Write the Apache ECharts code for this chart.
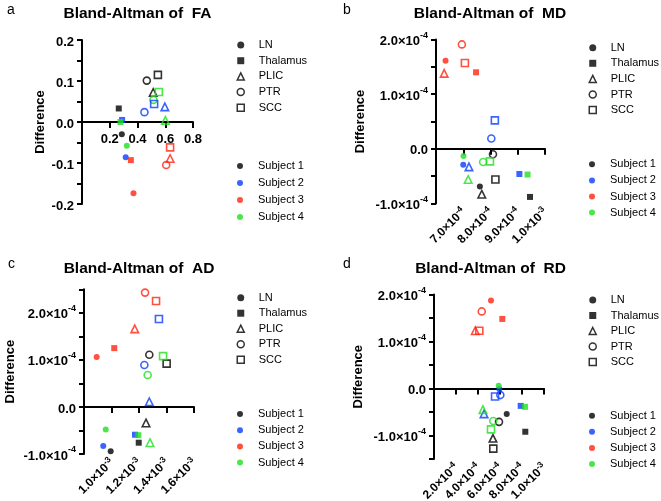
<!DOCTYPE html>
<html>
<head>
<meta charset="utf-8">
<script src="https://cdn.jsdelivr.net/npm/echarts@6/dist/echarts.min.js"></script>
<style>
  html, body { margin: 0; padding: 0; background: #fff; }
  #chart { width: 661px; height: 501px; }
</style>
</head>
<body>
<div id="chart"></div>
<script>
const regions = ["LN", "Thalamus", "PLIC", "PTR", "SCC"];
const subjects = ["Subject 1", "Subject 2", "Subject 3", "Subject 4"];
const subjectColors = ["#000000", "#0a3cff", "#ff2410", "#1fe01f"];

// [mean, difference] per region, in order LN, Thalamus, PLIC, PTR, SCC
const faS1 = [[0.287, -0.030], [0.265, 0.033], [0.513, 0.072], [0.467, 0.101], [0.547, 0.115]];
const faS2 = [[0.315, -0.086], [0.289, 0.005], [0.597, 0.037], [0.450, 0.024], [0.520, 0.044]];
const faS3 = [[0.371, -0.174], [0.352, -0.093], [0.635, -0.089], [0.607, -0.105], [0.635, -0.062]];
const faS4 = [[0.323, -0.058], [0.277, 0.000], [0.601, 0.004], [0.515, 0.054], [0.554, 0.073]];

const mdS1 = [[7.61e-4, -0.69e-4], [9.45e-4, -0.88e-4], [7.68e-4, -0.83e-4], [8.09e-4, -0.10e-4], [8.18e-4, -0.56e-4]];
const mdS2 = [[7.00e-4, -0.29e-4], [9.06e-4, -0.46e-4], [7.21e-4, -0.33e-4], [8.03e-4, 0.19e-4], [8.16e-4, 0.52e-4]];
const mdS3 = [[6.35e-4, 1.61e-4], [7.47e-4, 1.40e-4], [6.30e-4, 1.38e-4], [6.95e-4, 1.91e-4], [7.06e-4, 1.57e-4]];
const mdS4 = [[7.01e-4, -0.13e-4], [9.36e-4, -0.47e-4], [7.18e-4, -0.56e-4], [7.73e-4, -0.24e-4], [7.98e-4, -0.23e-4]];

const adS1 = [[0.994e-3, -0.94e-4], [1.198e-3, -0.76e-4], [1.251e-3, -0.34e-4], [1.275e-3, 1.11e-4], [1.401e-3, 0.92e-4]];
const adS2 = [[0.940e-3, -0.83e-4], [1.171e-3, -0.59e-4], [1.275e-3, 0.11e-4], [1.239e-3, 0.89e-4], [1.345e-3, 1.87e-4]];
const adS3 = [[0.892e-3, 1.06e-4], [1.020e-3, 1.25e-4], [1.169e-3, 1.66e-4], [1.244e-3, 2.43e-4], [1.324e-3, 2.25e-4]];
const adS4 = [[0.958e-3, -0.48e-4], [1.195e-3, -0.60e-4], [1.280e-3, -0.76e-4], [1.263e-3, 0.68e-4], [1.375e-3, 1.08e-4]];

const rdS1 = [[6.61e-4, -0.54e-4], [8.30e-4, -0.92e-4], [5.36e-4, -1.06e-4], [5.91e-4, -0.71e-4], [5.39e-4, -1.28e-4]];
const rdS2 = [[5.94e-4, -0.01e-4], [7.88e-4, -0.37e-4], [4.55e-4, -0.54e-4], [6.03e-4, -0.14e-4], [5.55e-4, -0.17e-4]];
const rdS3 = [[5.18e-4, 1.87e-4], [6.21e-4, 1.48e-4], [3.75e-4, 1.23e-4], [4.34e-4, 1.64e-4], [4.12e-4, 1.23e-4]];
const rdS4 = [[5.88e-4, 0.06e-4], [8.27e-4, -0.39e-4], [4.45e-4, -0.45e-4], [5.39e-4, -0.69e-4], [5.18e-4, -0.87e-4]];

const regionSymbols = ["circle", "rect", "triangle", "circle", "rect"];
const regionHollow = [false, false, true, true, true];
const regionSizes = [6, 6, 7.5, 7, 7];

const font = "'Liberation Sans', Arial, Helvetica, sans-serif";

const panels = [
  { letter: "a", letterPos: [7, 10], title: "Bland-Altman of  FA", titlePos: [137.5, 14],
    data: [faS1, faS2, faS3, faS4], grid: [82, 40, 111, 164],
    x: [0, 0.8, 0.2], y: [-0.2, 0.2, 0.05], step: 0.1, sci: false, nameGap: 35,
    legendX: 240, regTop: 39.5, regGap: 4.7, subTop: 160.5, subGap: 6 },
  { letter: "b", letterPos: [343, 10], title: "Bland-Altman of  MD", titlePos: [490, 14],
    data: [mdS1, mdS2, mdS3, mdS4], grid: [436, 39.5, 109, 164],
    x: [6e-4, 1e-3, 1e-4], y: [-1e-4, 2e-4, 0.5e-4], step: 1e-4, sci: true, nameGap: 69,
    legendX: 592, regTop: 42.2, regGap: 4.6, subTop: 158.8, subGap: 5.1 },
  { letter: "c", letterPos: [8, 264], title: "Bland-Altman of  AD", titlePos: [139, 269],
    data: [adS1, adS2, adS3, adS4], grid: [84, 289.3, 110, 164.7],
    x: [0.8e-3, 1.6e-3, 0.2e-3], y: [-1e-4, 2.5e-4, 0.5e-4], step: 1e-4, sci: true, nameGap: 67,
    legendX: 240, regTop: 292.2, regGap: 4.5, subTop: 408.5, subGap: 5.2 },
  { letter: "d", letterPos: [343, 264], title: "Bland-Altman of  RD", titlePos: [490.5, 269],
    data: [rdS1, rdS2, rdS3, rdS4], grid: [434, 294.5, 110, 164.5],
    x: [0, 1e-3, 2e-4], y: [-1.5e-4, 2e-4, 0.5e-4], step: 1e-4, sci: true, nameGap: 69,
    legendX: 592, regTop: 294.5, regGap: 4.5, subTop: 410.2, subGap: 5.1 }
];

function makeRich(size, supSize, lineHeight) {
  return {
    b: { fontSize: size, fontWeight: "bold", fontFamily: font, color: "#000", lineHeight: lineHeight, verticalAlign: "bottom" },
    s: { fontSize: supSize, fontWeight: "bold", fontFamily: font, color: "#000", lineHeight: supSize, verticalAlign: "top" }
  };
}
const richY = makeRich(13, 9, 17);
const richX = makeRich(12, 8.5, 14);

function sciLabel(v) {
  if (Math.abs(v) < 1e-12) return "{b|0.0}";
  let exp = Math.floor(Math.log10(Math.abs(v)) + 1e-9);
  let mant = v / Math.pow(10, exp);
  if (Math.abs(mant) >= 9.95) { mant /= 10; exp += 1; }
  return "{b|" + mant.toFixed(1) + "×10}{s|" + exp + "}";
}

function isMultiple(v, step) {
  const r = v / step;
  return Math.abs(r - Math.round(r)) < 1e-6;
}

const axisLine = { color: "#000", width: 2 };
const grids = [], xAxes = [], yAxes = [], series = [], legends = [], graphics = [];

panels.forEach((p, pi) => {
  grids.push({ left: p.grid[0], top: p.grid[1], width: p.grid[2], height: p.grid[3],
    containLabel: false, outerBoundsMode: "none" });

  const fmtX = v => {
    if (Math.abs(v - p.x[0]) < p.x[2] * 1e-6) return "";
    return p.sci ? sciLabel(v) : "{b|" + v.toFixed(1) + "}";
  };
  const fmtY = v => {
    if (!isMultiple(v, p.step)) return "";
    return p.sci ? sciLabel(v) : "{b|" + v.toFixed(1) + "}";
  };

  let dataAxis;
  if (!p.sci) {
    // labels follow the line at y = 0: shift the bottom axis up to zero
    const zeroOffset = p.grid[3] * (0 - p.y[0]) / (p.y[1] - p.y[0]);
    dataAxis = xAxes.length;
    xAxes.push({
      gridIndex: pi, type: "value", position: "bottom", offset: -zeroOffset,
      min: p.x[0], max: p.x[1], interval: p.x[2],
      axisLine: { show: true, onZero: false, lineStyle: axisLine },
      axisTick: { show: true, length: 6, lineStyle: axisLine },
      axisLabel: { formatter: fmtX, rich: richY, margin: 7, showMaxLabel: true },
      splitLine: { show: false }
    });
  } else {
    dataAxis = xAxes.length;
    // labels sit at the bottom of the plot
    xAxes.push({
      gridIndex: pi, type: "value", position: "bottom", min: p.x[0], max: p.x[1], interval: p.x[2],
      axisLine: { show: false, onZero: false },
      axisTick: { show: false },
      axisLabel: { formatter: fmtX, rich: richX, rotate: 45, margin: 6, showMaxLabel: true, hideOverlap: false },
      splitLine: { show: false }
    });
    // the line itself crosses at zero
    xAxes.push({
      gridIndex: pi, type: "value", position: "top", min: p.x[0], max: p.x[1], interval: p.x[2],
      axisLine: { show: true, onZero: true, lineStyle: axisLine },
      axisTick: { show: true, inside: true, length: 6, lineStyle: axisLine },
      axisLabel: { show: false },
      splitLine: { show: false }
    });
  }

  yAxes.push({
    gridIndex: pi, type: "value", min: p.y[0], max: p.y[1], interval: p.y[2],
    name: "Difference", nameLocation: "middle", nameGap: p.nameGap,
    nameTextStyle: { fontSize: 13, fontWeight: "bold", fontFamily: font, color: "#000" },
    axisLine: { show: true, onZero: false, lineStyle: axisLine },
    axisTick: { show: true, length: 5, lineStyle: axisLine },
    axisLabel: { formatter: fmtY, rich: richY, margin: 8, showMaxLabel: true, showMinLabel: true },
    splitLine: { show: false }
  });

  regions.forEach((r, ri) => {
    series.push({
      name: r, type: "scatter", xAxisIndex: dataAxis, yAxisIndex: pi,
      symbol: regionSymbols[ri], symbolSize: regionSizes[ri], symbolKeepAspect: true,
      itemStyle: regionHollow[ri]
        ? { color: "rgba(0,0,0,0)", borderColor: "#000", borderWidth: 1.6 }
        : { color: "#000" },
      emphasis: { disabled: true },
      data: p.data.map((rows, si) => ({
        value: rows[ri],
        itemStyle: regionHollow[ri]
          ? { color: "rgba(0,0,0,0)", borderColor: subjectColors[si], borderWidth: 1.6 }
          : { color: subjectColors[si] }
      }))
    });
  });

  legends.push({
    orient: "vertical", left: p.legendX - 3.5, top: p.regTop, padding: 0,
    itemWidth: 7, itemHeight: 7, itemGap: p.regGap, selectedMode: false, symbolKeepAspect: true,
    textStyle: { fontSize: 11, color: "#000", fontFamily: font, padding: [0, 0, 0, 9.5] },
    data: regions.map((r, ri) => ({
      name: r, icon: regionSymbols[ri],
      itemStyle: regionHollow[ri]
        ? { color: "rgba(0,0,0,0)", borderColor: "#000", borderWidth: 1.5 }
        : { color: "#000", borderWidth: 0 }
    }))
  });
  legends.push({
    orient: "vertical", left: p.legendX - 3, top: p.subTop, padding: 0,
    itemWidth: 6, itemHeight: 6, itemGap: p.subGap, selectedMode: false, symbolKeepAspect: true,
    textStyle: { fontSize: 11, color: "#000", fontFamily: font, padding: [0, 0, 0, 10] },
    data: subjects.map((s, si) => ({ name: s, icon: "circle", itemStyle: { color: subjectColors[si], borderWidth: 0 } }))
  });

  graphics.push({
    type: "text", x: p.letterPos[0], y: p.letterPos[1],
    style: { text: p.letter, fontSize: 14, fontFamily: font, fill: "#000", verticalAlign: "middle" }
  });
  graphics.push({
    type: "text", x: p.titlePos[0], y: p.titlePos[1],
    style: { text: p.title, fontSize: 15.5, fontWeight: "bold", fontFamily: font, fill: "#000",
      align: "center", verticalAlign: "middle" }
  });
});

// legend entries for the subject colours
subjects.forEach((s, si) => {
  series.push({ name: s, type: "scatter", xAxisIndex: 0, yAxisIndex: 0, symbol: "circle",
    itemStyle: { color: subjectColors[si] }, data: [] });
});

const chart = echarts.init(document.getElementById("chart"));
chart.setOption({
  animation: false,
  backgroundColor: "#fff",
  grid: grids,
  xAxis: xAxes,
  yAxis: yAxes,
  legend: legends,
  graphic: graphics,
  series: series
});
</script>
</body>
</html>
